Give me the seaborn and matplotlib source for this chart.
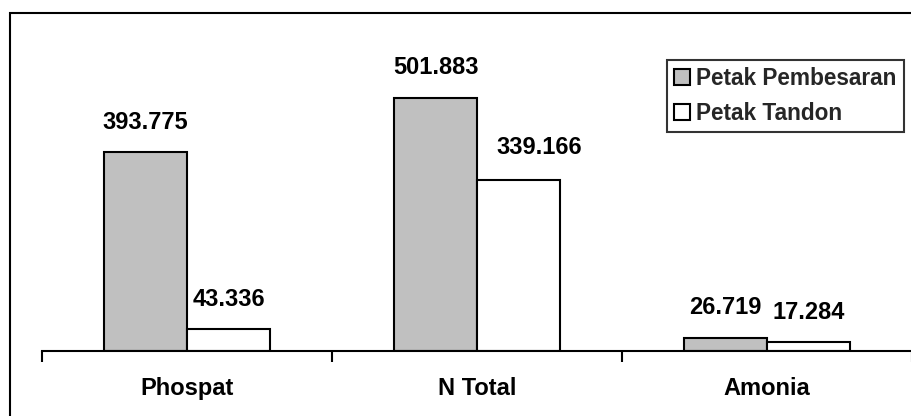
import matplotlib
matplotlib.use("Agg")
import matplotlib.pyplot as plt
import seaborn as sns
import pandas as pd
from matplotlib.patches import Rectangle, Patch

categories = ["Phospat", "N Total", "Amonia"]
pembesaran = [393.775, 501.883, 26.719]
tandon = [43.336, 339.166, 17.284]
series_names = ["Petak Pembesaran", "Petak Tandon"]

df = pd.DataFrame({
    "kategori": categories * 2,
    "nilai": pembesaran + tandon,
    "petak": [series_names[0]] * 3 + [series_names[1]] * 3,
})

sns.set_theme(style="white")
plt.rcParams["font.family"] = ["Liberation Sans", "DejaVu Sans"]
plt.rcParams["font.weight"] = "bold"

FS = 17

fig = plt.figure(figsize=(9.11, 4.16), dpi=100)
ax = fig.add_axes([42 / 911, 1 - 351 / 416, 870 / 911, 303 / 416])

colors = {series_names[0]: "#C0C0C0", series_names[1]: "#FFFFFF"}
sns.barplot(data=df, x="kategori", y="nilai", hue="petak", order=categories,
            hue_order=series_names, palette=colors, edgecolor="black",
            linewidth=1.5, width=0.572, saturation=1, ax=ax, legend=False)

value_labels = []
for cont in ax.containers:
    value_labels.append(ax.bar_label(cont, fmt="%.3f", padding=13, fontsize=FS,
                                     fontweight="bold", color="black"))
# nudge the N Total / Tandon label to the right, clear of the taller bar's label
value_labels[1][1].xyann = (15, 15)

ax.set_xlim(-0.5, 2.5)
ax.set_ylim(0, 600)
ax.set_xlabel("")
ax.set_ylabel("")
ax.set_yticks([])
for s in ["left", "top", "right"]:
    ax.spines[s].set_visible(False)
ax.spines["bottom"].set_color("black")
ax.spines["bottom"].set_linewidth(1.5)

# boundary ticks between categories, names placed at the centers
ax.set_xticks([-0.5, 0.5, 1.5, 2.5])
ax.set_xticklabels([])
ax.tick_params(axis="x", which="major", direction="out", length=8, width=1.5,
               color="black", bottom=True)
ax.set_xticks([0, 1, 2], minor=True)
ax.set_xticklabels(categories, minor=True, fontsize=FS, fontweight="bold")
ax.tick_params(axis="x", which="minor", length=0, pad=19, labelcolor="black")

handles = [Patch(facecolor=colors[n], edgecolor="black", linewidth=1.5) for n in series_names]
leg = fig.legend(handles, series_names, loc="upper left",
                 bbox_to_anchor=(667 / 911, 1 - 60 / 416),
                 frameon=True, fancybox=False, fontsize=16.3,
                 handlelength=0.7, handleheight=0.7, handletextpad=0.3,
                 borderpad=0.3, labelspacing=0.55, borderaxespad=0)
leg.get_frame().set_edgecolor("black")
leg.get_frame().set_linewidth(1.5)
for t in leg.get_texts():
    t.set_fontweight("bold")

# outer chart frame
fig.patches.append(Rectangle((10 / 911, -0.1), 1.2, 1.1 - 13 / 416,
                             transform=fig.transFigure, fill=False,
                             edgecolor="black", linewidth=1.5, zorder=10))

fig.savefig("out.png", dpi=100)
